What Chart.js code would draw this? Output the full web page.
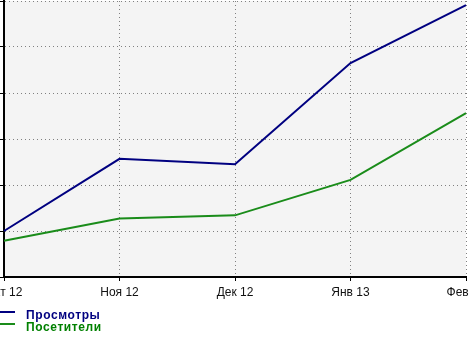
<!DOCTYPE html>
<html>
<head>
<meta charset="utf-8">
<script src="https://cdn.jsdelivr.net/npm/chart.js@4.4.0/dist/chart.umd.min.js"></script>
<style>
    body { margin: 0; background: #fff; }
    #wrap { position: relative; width: 472px; height: 341px; overflow: hidden; }
</style>
</head>
<body>
<div id="wrap"><canvas id="chart" width="472" height="341"></canvas></div>
<script>
// Statics
var MONTHS = ['Окт 12', 'Ноя 12', 'Дек 12', 'Янв 13', 'Фев 13'];
var VIEWS_SERIES = [1.0, 2.57, 2.45, 4.65, 5.91];    // Просмотры
var VISITORS_SERIES = [0.79, 1.27, 1.34, 2.11, 3.56]; // Посетители
var Y_TICKS = [0, 1, 2, 3, 4, 5, 6];                  // no labels shown, only grid

var BLUE = '#000080';
var GREEN = '#1a8c1a';

// grey box behind the plot
var plotBackground = {
    id: 'plotBackground',
    beforeDraw: function (chart) {
        var a = chart.chartArea;
        var ctx = chart.ctx;
        ctx.save();
        ctx.fillStyle = '#f4f4f4';
        ctx.fillRect(a.left, a.top, a.right - a.left, a.bottom - a.top);
        ctx.restore();
    }
};

// legend under the chart, one item per line
var stackedLegend = {
    id: 'stackedLegend',
    afterDraw: function (chart) {
        var ctx = chart.ctx;
        ctx.save();
        ctx.font = 'bold 12px "Liberation Sans", Arial, sans-serif';
        ctx.letterSpacing = '0.6px';
        ctx.textBaseline = 'alphabetic';
        chart.data.datasets.forEach(function (ds, i) {
            var y = 312 + i * 12;
            ctx.strokeStyle = ds.borderColor;
            ctx.lineWidth = 2;
            ctx.beginPath();
            ctx.moveTo(0, y);
            ctx.lineTo(15, y);
            ctx.stroke();
            ctx.fillStyle = ds.textColor;
            ctx.fillText(ds.label, 26, y + 7);
        });
        ctx.restore();
    }
};

var gridOpts = {
    color: '#808080',
    tickLength: 4,
    tickColor: '#000',
    tickBorderDash: [],
    tickWidth: 1
};

new Chart(document.getElementById('chart'), {
    type: 'line',
    data: {
        labels: MONTHS,
        datasets: [{
            label: 'Просмотры',
            data: VIEWS_SERIES,
            borderColor: BLUE,
            textColor: BLUE,
            borderWidth: 2,
            pointRadius: 0,
            tension: 0
        }, {
            label: 'Посетители',
            data: VISITORS_SERIES,
            borderColor: GREEN,
            textColor: '#008000',
            borderWidth: 2,
            pointRadius: 0,
            tension: 0
        }]
    },
    options: {
        responsive: false,
        animation: false,
        layout: { padding: { top: 1, right: 6, bottom: 0, left: 0 } },
        plugins: {
            legend: { display: false },
            tooltip: { enabled: false }
        },
        scales: {
            x: {
                offset: false,
                border: { color: '#000', width: 2, dash: [1, 3] }, // dash goes to the grid lines in v4
                grid: gridOpts,
                ticks: {
                    color: '#111',
                    padding: 4,
                    autoSkip: false,
                    maxRotation: 0,
                    font: { family: '"Liberation Sans", Arial, sans-serif', size: 12 }
                },
                afterFit: function (scale) {
                    scale.paddingLeft = 0;  // let first/last labels get cut off
                    scale.paddingRight = 0;
                    scale.height = 64;
                }
            },
            y: {
                min: Y_TICKS[0],
                max: Y_TICKS[Y_TICKS.length - 1],
                border: { color: '#000', width: 2, dash: [1, 3] },
                grid: gridOpts,
                afterBuildTicks: function (scale) {
                    scale.ticks = Y_TICKS.map(function (v) { return { value: v }; });
                },
                ticks: { display: false }
            }
        }
    },
    plugins: [plotBackground, stackedLegend]
});
</script>
</body>
</html>
